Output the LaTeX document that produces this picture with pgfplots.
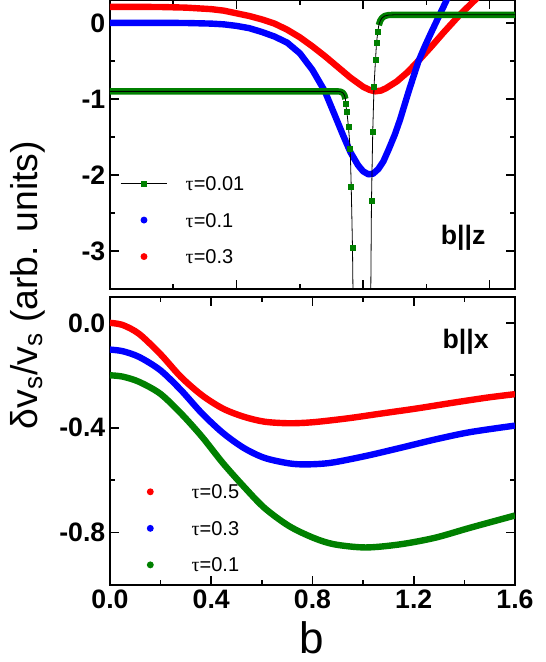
\documentclass[border=0pt]{standalone}
\usepackage{fontspec}
\setmainfont{Liberation Sans}
\newfontfamily\taufont{Liberation Serif}
\usepackage{pgfplots}
\pgfplotsset{compat=1.18}
\definecolor{dgreen}{RGB}{0,128,0}
\definecolor{pblue}{RGB}{0,0,255}
\definecolor{pred}{RGB}{255,0,0}
\newcommand{\tl}{{\taufont τ}}
\pgfplotsset{
  panel/.style={
    scale only axis, width=303.75pt, xmin=0, xmax=1.6,
    axis line style={line width=1.6pt},
    tick style={line width=1.2pt, black},
    major tick length=7pt, minor tick length=4pt,
    tick align=inside,
    /pgf/number format/assume math mode=true,
    tick label style={font=\fontsize{20}{20}\selectfont\bfseries},
    legend cell align=left,
  },
  curve/.style={line width=4.8pt, line join=round},
}
\begin{document}
\begin{tikzpicture}
\begin{axis}[panel, name=top, at={(0pt,0pt)}, anchor=north west, height=217pt,
  ymin=-3.5, ymax=0.3,
  xtick={0.5,1.0,1.5}, minor xtick={0.25,0.75,1.25}, xticklabels={},
  ytick={-3,-2,-1,0}, minor ytick={-2.5,-1.5,-0.5},
  yticklabel style={/pgf/number format/.cd, fixed, precision=0},
  legend style={draw=none, fill=none, at={(axis cs:0.0395,-2.59)}, anchor=west,
    inner sep=0pt, row sep=15.9pt, column sep=13.5pt, font=\fontsize{15}{15}\selectfont,
    nodes={inner sep=0pt, text height=11pt, text depth=0.5pt}},
]
% tau = 0.3
\addplot[curve, pred, forget plot] coordinates {(0,0.21)(0.1,0.21)(0.2,0.208)(0.3,0.20)(0.4,0.18)(0.45,0.16)(0.5,0.125)(0.55,0.09)(0.6,0.045)(0.65,-0.01)(0.7,-0.09)(0.75,-0.19)(0.8,-0.31)(0.85,-0.44)(0.9,-0.58)(0.95,-0.72)(1.0,-0.84)(1.025,-0.88)(1.047,-0.90)(1.07,-0.89)(1.09,-0.86)(1.133,-0.77)(1.175,-0.65)(1.218,-0.50)(1.27,-0.31)(1.317,-0.13)(1.383,0.11)(1.442,0.30)(1.46,0.36)};
% tau = 0.1
\addplot[curve, pblue, forget plot] coordinates {(0,0.0)(0.2,0.0)(0.3,-0.002)(0.4,-0.01)(0.45,-0.02)(0.5,-0.04)(0.55,-0.07)(0.6,-0.12)(0.65,-0.18)(0.7,-0.26)(0.75,-0.40)(0.8,-0.62)(0.849,-0.90)(0.889,-1.22)(0.92,-1.47)(0.95,-1.70)(0.98,-1.87)(1.0,-1.95)(1.021,-1.99)(1.04,-1.98)(1.06,-1.92)(1.08,-1.82)(1.10,-1.67)(1.125,-1.47)(1.146,-1.27)(1.18,-0.90)(1.218,-0.51)(1.245,-0.30)(1.27,-0.12)(1.30,0.09)(1.33,0.30)(1.35,0.43)};
% tau = 0.01 dense parts
\addplot[curve, dgreen, forget plot] coordinates {(0,-0.9)(0.9,-0.9)(0.912,-0.905)(0.92,-0.92)(0.926,-0.95)(0.93,-1.0)};
\addplot[curve, dgreen, forget plot] coordinates {(1.062,-0.03)(1.068,0.03)(1.075,0.065)(1.085,0.09)(1.1,0.102)(1.12,0.105)(1.6,0.105)};
% tau = 0.01 thin line
\addplot[black, line width=0.6pt, forget plot] coordinates {(0,-0.9)(0.9,-0.9)(0.912,-0.905)(0.92,-0.92)(0.926,-0.95)(0.93,-1.0)(0.931,-1.063)(0.936,-1.172)(0.942,-1.364)(0.949,-1.66)(0.953,-2.15)(0.958,-2.95)(0.975,-8)(1.0,-10)(1.02,-8)(1.033,-2.34)(1.038,-1.43)(1.043,-0.84)(1.049,-0.48)(1.053,-0.26)(1.058,-0.12)(1.062,-0.03)(1.068,0.03)(1.075,0.065)(1.085,0.09)(1.1,0.102)(1.12,0.105)(1.6,0.105)};
% tau = 0.01 markers
\addplot[only marks, mark=square*, mark size=1.9pt, dgreen, forget plot] coordinates {(0.931,-1.063)(0.936,-1.172)(0.942,-1.364)(0.949,-1.66)(0.953,-2.15)(0.958,-2.95)(1.033,-2.34)(1.038,-1.43)(1.043,-0.84)(1.049,-0.48)(1.053,-0.26)(1.058,-0.12)};
\addlegendimage{legend image code/.code={\draw[black,line width=0.6pt] (0pt,0pt) -- (35pt,0pt); \fill[dgreen] (15.6pt,-1.9pt) rectangle (19.4pt,1.9pt);}}
\addlegendentry{\tl=0.01}
\addlegendimage{legend image code/.code={\path[draw=none] (0pt,0pt) -- (35pt,0pt); \fill[pblue,draw=none] (17.5pt,0pt) circle (2.6pt);}}
\addlegendentry{\tl=0.1}
\addlegendimage{legend image code/.code={\path[draw=none] (0pt,0pt) -- (35pt,0pt); \fill[pred,draw=none] (17.5pt,0pt) circle (2.6pt);}}
\addlegendentry{\tl=0.3}
\node[font=\fontsize{20}{20}\selectfont\bfseries] at (axis cs:1.395,-2.82) {b\textbar\textbar z};
\end{axis}
\begin{axis}[panel, name=bot, at={(0pt,-222.5pt)}, anchor=north west, height=216.2pt,
  ymin=-1, ymax=0.1,
  xtick={0,0.4,0.8,1.2,1.6}, minor xtick={0.2,0.6,1.0,1.4},
  ytick={-0.8,-0.4,0}, minor ytick={-0.6,-0.2},
  xticklabel style={/pgf/number format/.cd, fixed, fixed zerofill, precision=1},
  yticklabel style={/pgf/number format/.cd, fixed, fixed zerofill, precision=1},
  legend style={draw=none, fill=none, at={(axis cs:0.066,-0.784)}, anchor=west,
    inner sep=0pt, row sep=15.9pt, column sep=13.5pt, font=\fontsize{15}{15}\selectfont,
    nodes={inner sep=0pt, text height=11pt, text depth=0.5pt}},
]
\addplot[curve, pred, smooth, forget plot] coordinates {(0,0)(0.05,-0.008)(0.115,-0.042)(0.2,-0.12)(0.28,-0.206)(0.363,-0.276)(0.446,-0.327)(0.528,-0.358)(0.61,-0.377)(0.707,-0.383)(0.803,-0.379)(0.941,-0.364)(1.078,-0.345)(1.216,-0.326)(1.353,-0.305)(1.491,-0.285)(1.6,-0.272)};
\addplot[curve, pblue, smooth, forget plot] coordinates {(0,-0.102)(0.05,-0.108)(0.115,-0.13)(0.198,-0.18)(0.28,-0.256)(0.363,-0.345)(0.446,-0.42)(0.528,-0.477)(0.61,-0.515)(0.707,-0.536)(0.776,-0.54)(0.872,-0.534)(1.01,-0.508)(1.147,-0.477)(1.284,-0.445)(1.422,-0.417)(1.6,-0.392)};
\addplot[curve, dgreen, smooth, forget plot] coordinates {(0,-0.2)(0.05,-0.205)(0.115,-0.225)(0.198,-0.27)(0.28,-0.345)(0.363,-0.434)(0.446,-0.535)(0.528,-0.624)(0.61,-0.706)(0.707,-0.775)(0.803,-0.82)(0.886,-0.845)(1.01,-0.857)(1.147,-0.845)(1.284,-0.82)(1.422,-0.782)(1.6,-0.735)};
\addlegendimage{legend image code/.code={\path[draw=none] (0pt,0pt) -- (35pt,0pt); \fill[pred,draw=none] (17.5pt,0pt) circle (2.6pt);}}
\addlegendentry{\tl=0.5}
\addlegendimage{legend image code/.code={\path[draw=none] (0pt,0pt) -- (35pt,0pt); \fill[pblue,draw=none] (17.5pt,0pt) circle (2.6pt);}}
\addlegendentry{\tl=0.3}
\addlegendimage{legend image code/.code={\path[draw=none] (0pt,0pt) -- (35pt,0pt); \fill[dgreen,draw=none] (17.5pt,0pt) circle (2.6pt);}}
\addlegendentry{\tl=0.1}
\node[font=\fontsize{20}{20}\selectfont\bfseries] at (axis cs:1.405,-0.074) {b\textbar\textbar x};
\end{axis}
\node[rotate=90, anchor=base, font=\fontsize{28}{28}\selectfont] at (-54pt,-213.75pt) {δv\textsubscript{s}/v\textsubscript{s} (arb. units)};
\node[anchor=base, inner sep=0pt, font=\fontsize{33}{33}\selectfont] at (151.5pt,-490pt) {b};
\pgfresetboundingbox
\useasboundingbox (-82.5pt,0pt) rectangle (327pt,-496.5pt);
\end{tikzpicture}
\end{document}
